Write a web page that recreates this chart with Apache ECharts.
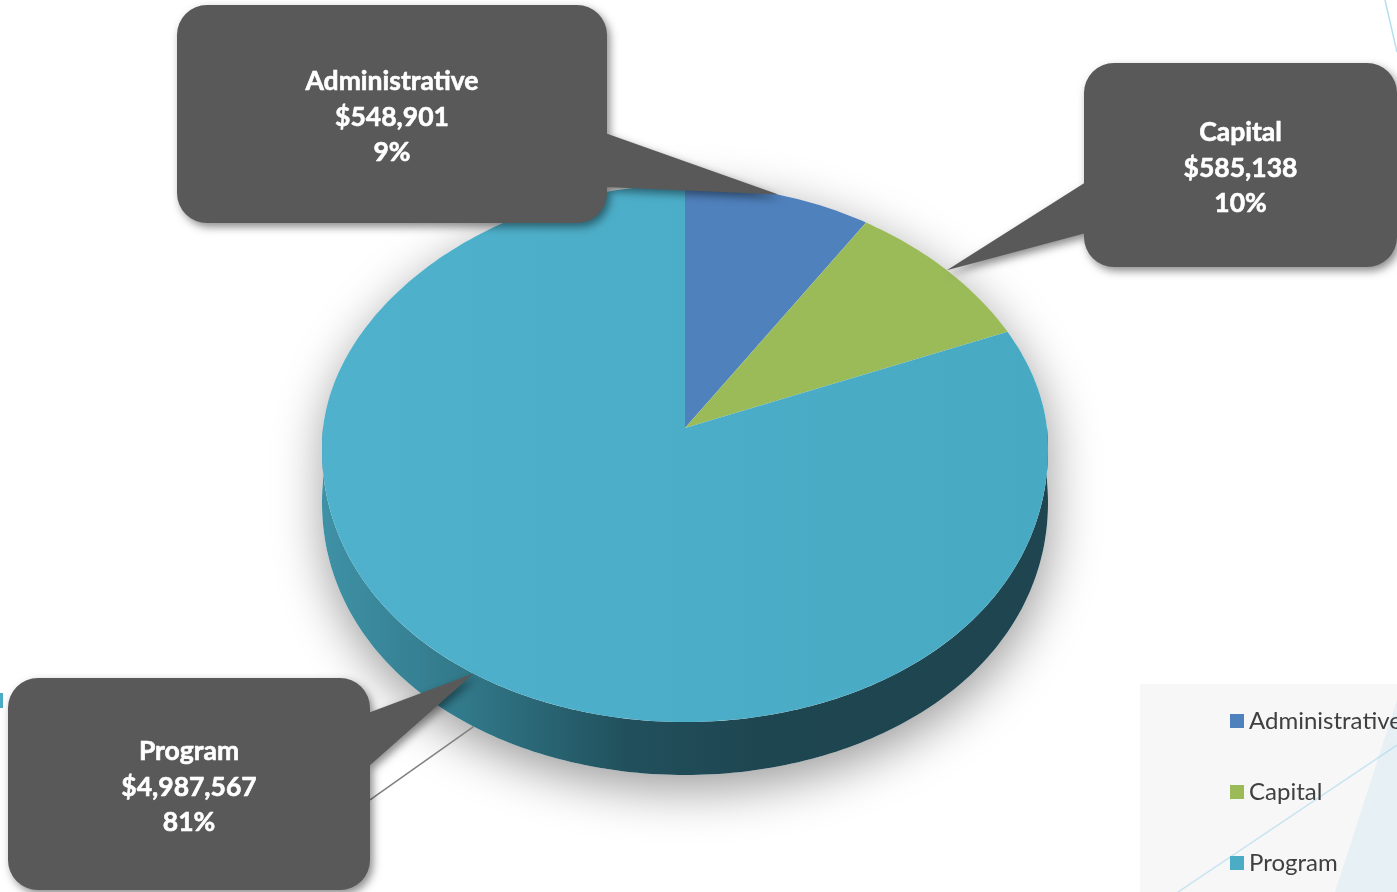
<!DOCTYPE html>
<html><head><meta charset="utf-8">
<script src="https://cdn.jsdelivr.net/npm/echarts@6/dist/echarts.min.js"></script>
<style>html,body{margin:0;padding:0;background:#fff;overflow:hidden}#c{width:1397px;height:892px}</style>
</head><body><div id="c"></div>
<script>
// ---- data ----
const categories = ['Administrative', 'Capital', 'Program'];
const amounts = [548901, 585138, 4987567];
const sliceColors = ['#4f81bd', '#9bbb59', '#4bacc6'];

// ---- layout (positions / styles only) ----
const PIE = { cx: 685, cy: 428, rx: 362, ryTop: 243, ryBot: 294, depth: 53, persp: 0.075 };
const callouts = [
  { box: [177, 5, 430, 218], base: [[605, 133], [605, 187]], leader: false },
  { box: [1084, 63, 313, 204], base: [[1086, 182], [1086, 233]], leader: false },
  { box: [8, 678, 362, 212], base: [[368, 713], [368, 767]], leader: true }
];

const total = amounts.reduce((a, b) => a + b, 0);
const startAngles = [];
(function () { let acc = 0; amounts.forEach(v => { startAngles.push(acc / total * 360); acc += v; }); })();

function pt(deg, dy) {
  const t = deg * Math.PI / 180;
  const c = Math.cos(t);
  const ry = c > 0 ? PIE.ryTop : PIE.ryBot;
  return [PIE.cx + PIE.rx * Math.sin(t) * (1 - PIE.persp * c), PIE.cy - ry * c + (dy || 0)];
}
function arc(a, b, dy) {
  const pts = [];
  const n = Math.max(2, Math.ceil(Math.abs(b - a)));
  for (let i = 0; i <= n; i++) pts.push(pt(a + (b - a) * i / n, dy));
  return pts;
}
function roundRectPath(x, y, w, h, r) {
  return `M${x + r} ${y} L${x + w - r} ${y} A${r} ${r} 0 0 1 ${x + w} ${y + r} L${x + w} ${y + h - r} ` +
    `A${r} ${r} 0 0 1 ${x + w - r} ${y + h} L${x + r} ${y + h} A${r} ${r} 0 0 1 ${x} ${y + h - r} ` +
    `L${x} ${y + r} A${r} ${r} 0 0 1 ${x + r} ${y} Z`;
}
function triPath(p) {
  let s = 0;
  for (let i = 0; i < 3; i++) { const a = p[i], b = p[(i + 1) % 3]; s += a[0] * b[1] - b[0] * a[1]; }
  if (s < 0) p = [p[0], p[2], p[1]];
  return `M${p[0][0]} ${p[0][1]} L${p[1][0]} ${p[1][1]} L${p[2][0]} ${p[2][1]} Z`;
}
function fmtMoney(v) { return '$' + v.toLocaleString('en-US'); }

const sideGradient = {
  type: 'linear', x: PIE.cx - PIE.rx, y: 0, x2: PIE.cx + PIE.rx, y2: 0, global: true,
  colorStops: [
    { offset: 0, color: '#3f91a6' }, { offset: 0.2, color: '#317889' },
    { offset: 0.42, color: '#21505c' }, { offset: 0.6, color: '#1e4651' }, { offset: 1, color: '#1e4550' }
  ]
};

function makeSeries(i) {
  return {
    type: 'custom',
    name: categories[i],
    coordinateSystem: 'none',
    silent: true,
    itemStyle: { color: sliceColors[i] },
    data: [[amounts[i]]],
    renderItem: function (params, api) {
      const v = api.value(0);
      const a0 = startAngles[i];
      const a1 = a0 + v / total * 360;
      const children = [];
      if (i === 0) {
        const sil = arc(-90, 90, 0).concat(arc(90, 270, PIE.depth));
        children.push({
          type: 'polygon', z2: -10, shape: { points: sil },
          style: { fill: '#ffffff', shadowBlur: 50, shadowColor: 'rgba(0,0,0,0.4)', shadowOffsetY: 14, shadowOffsetX: 2 }
        });
      }
      const s = Math.max(a0, 90), e = Math.min(a1, 270);
      if (e > s) {
        const side = arc(s, e, 0).concat(arc(e, s, PIE.depth));
        children.push({ type: 'polygon', z2: 0, shape: { points: side }, style: { fill: sideGradient } });
      }
      const top = [[PIE.cx, PIE.cy]].concat(arc(a0, a1, 0));
      const fill = i === 2 ? {
        type: 'linear', x: PIE.cx - PIE.rx, y: 0, x2: PIE.cx + PIE.rx, y2: 0, global: true,
        colorStops: [{ offset: 0, color: '#4fb1cc' }, { offset: 1, color: '#48a9c3' }]
      } : sliceColors[i];
      children.push({ type: 'polygon', z2: 10, shape: { points: top }, style: { fill: fill } });

      const c = callouts[i];
      const mid = (a0 + a1) / 2;
      const tip = pt(mid, 0);
      const [bx, by, bw, bh] = c.box;
      if (c.leader) {
        const lp = pt(mid, PIE.depth);
        children.push({
          type: 'line', z2: 15, shape: { x1: bx + bw, y1: by + bh * 0.575, x2: lp[0], y2: lp[1] },
          style: { stroke: '#808080', lineWidth: 1.5 }
        });
      }
      children.push({
        type: 'path', z2: 20,
        shape: { pathData: roundRectPath(bx, by, bw, bh, 30) + ' ' + triPath([c.base[0], tip, c.base[1]]) },
        style: { fill: '#595959', shadowBlur: 8, shadowColor: 'rgba(0,0,0,0.45)', shadowOffsetX: 3, shadowOffsetY: 4 }
      });
      const pct = Math.round(v / total * 100) + '%';
      children.push({
        type: 'text', z2: 30,
        style: {
          text: categories[i] + '\n' + fmtMoney(v) + '\n' + pct,
          x: bx + bw / 2, y: by + bh / 2 + 3, align: 'center', verticalAlign: 'middle',
          fill: '#ffffff', fontFamily: 'Lato', fontWeight: 'bold', fontSize: 26.5, lineHeight: 35.5,
          stroke: '#ffffff', lineWidth: 0.6
        }
      });
      return { type: 'group', children: children };
    }
  };
}

const chart = echarts.init(document.getElementById('c'), null, { renderer: 'canvas' });
chart.setOption({
  animation: false,
  backgroundColor: '#ffffff',
  graphic: [
    { type: 'rect', z: -5, shape: { x: 1140, y: 684, width: 257, height: 208 }, style: { fill: '#f7f7f7' } },
    { type: 'polygon', z: -4, shape: { points: [[1335, 892], [1397, 700], [1397, 892]] }, style: { fill: 'rgba(200,228,240,0.35)' } },
    { type: 'line', z: -3, shape: { x1: 1178, y1: 892, x2: 1397, y2: 745 }, style: { stroke: 'rgba(150,210,235,0.5)', lineWidth: 1.5 } },
    { type: 'line', z: -3, shape: { x1: 1385, y1: 0, x2: 1397, y2: 52 }, style: { stroke: 'rgba(150,210,235,0.7)', lineWidth: 1.5 } },
    { type: 'rect', z: -3, shape: { x: 0, y: 693, width: 3, height: 15 }, style: { fill: '#4bacc6' } }
  ],
  legend: {
    data: categories,
    orient: 'vertical',
    left: 1225, top: 703,
    icon: 'rect', itemWidth: 14, itemHeight: 14, itemGap: 45,
    selectedMode: false,
    textStyle: { fontFamily: 'Lato', fontSize: 24, color: '#404040', lineHeight: 26 }
  },
  series: [0, 1, 2].map(makeSeries)
});
</script>
</body></html>
